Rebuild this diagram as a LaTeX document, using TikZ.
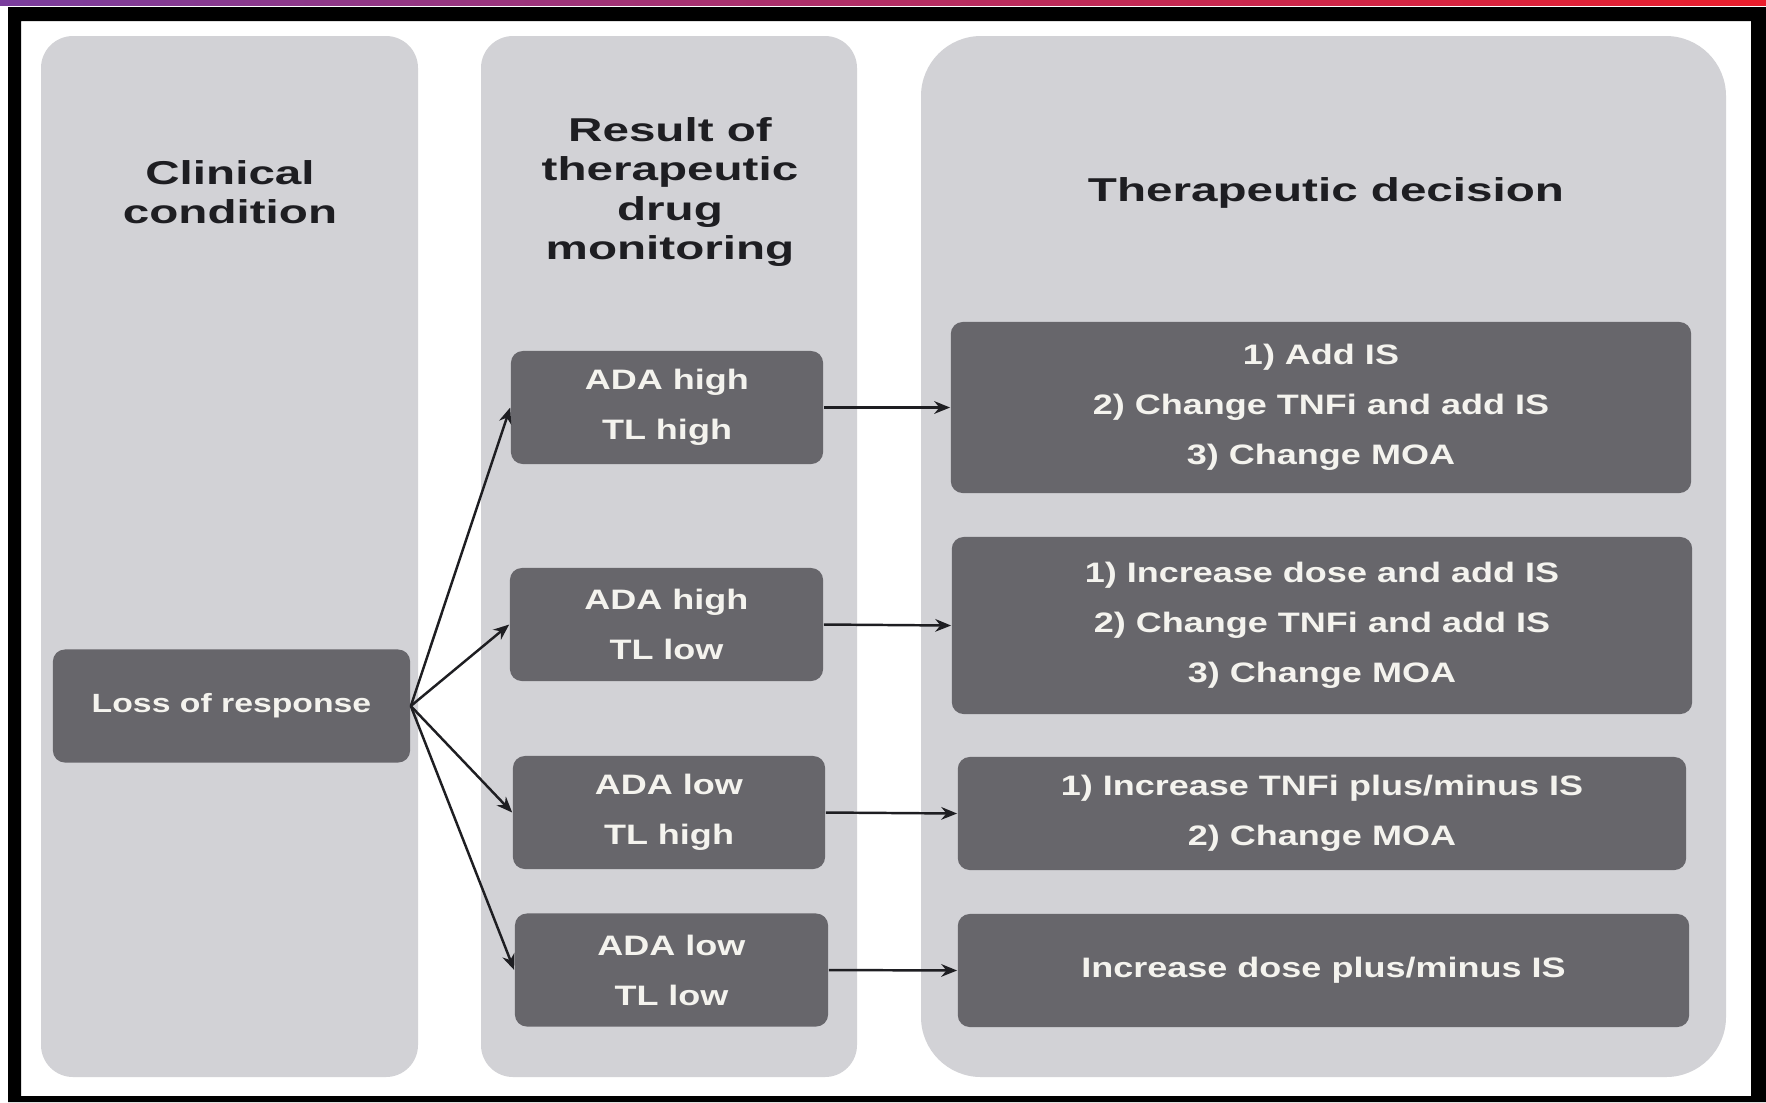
\documentclass[tikz,border=0pt]{standalone}
\usepackage{fontspec}
\usepackage{tikz}
\usetikzlibrary{arrows.meta}
\setmainfont{Liberation Sans}
\newfontfamily\headfont[FakeStretch=1.44]{Liberation Sans}
\newfontfamily\boxfont[FakeStretch=1.28]{Liberation Sans}
\definecolor{panelgray}{HTML}{D2D2D6}
\definecolor{boxgray}{HTML}{67666B}
\definecolor{inkdark}{HTML}{1E1E22}
\definecolor{boxtext}{HTML}{F4F3EE}
\definecolor{stripviolet}{HTML}{7A3E9D}
\definecolor{stripmagenta}{HTML}{BE1478}
\definecolor{stripred}{HTML}{EA1E2C}

\begin{document}
\begin{tikzpicture}[x=0.01cm,y=-0.01cm,
  head/.style={text=inkdark,align=center,font=\headfont\bfseries\fontsize{9.4}{11.1}\selectfont},
  dbox/.style={fill=boxgray,rounded corners=3.4pt,text=boxtext,align=center,inner sep=0pt,
    minimum height=1.13cm,font=\boxfont\bfseries\fontsize{8}{14.2}\selectfont},
  flow/.style={-{Stealth[length=4.5pt,width=3.6pt]},line width=0.7pt,draw=inkdark}]
\useasboundingbox (0,0) rectangle (1766,1102);
\fill[white] (0,0) rectangle (1766,1102);

% Frame
\shade[left color=stripviolet,middle color=stripmagenta,right color=stripred] (0,0) rectangle (1766,5);
\fill[black,even odd rule] (8,7) rectangle (1766,1102) (21,21) rectangle (1751,1096);

% Columns
\fill[panelgray,rounded corners=0.32cm] (41,36) rectangle (418,1077);
\fill[panelgray,rounded corners=0.32cm] (481,36) rectangle (857,1077);
\fill[panelgray,rounded corners=0.6cm] (921,36) rectangle (1726,1077);

\node[head] (h1) at (230,192) {Clinical\\condition};
\node[head] (h2) at (670,192) {Result of\\therapeutic\\drug\\monitoring};
\node[head] (h3) at (1326,193) {Therapeutic decision};

% Clinical condition
\node[dbox,minimum width=3.57cm,font=\boxfont\bfseries\fontsize{7.5}{14.2}\selectfont] (loss) at (231.5,706) {Loss of response};

% Monitoring results
\node[dbox,minimum width=3.12cm] (b1) at (667,407.5) {ADA high\\TL high};
\node[dbox,minimum width=3.13cm] (b2) at (666.5,624.5) {ADA high\\TL low};
\node[dbox,minimum width=3.12cm] (b3) at (669,812.5) {ADA low\\TL high};
\node[dbox,minimum width=3.13cm] (b4) at (671.5,970) {ADA low\\TL low};

% Decisions
\node[dbox,minimum width=7.40cm,minimum height=1.71cm] (r1) at (1321,407.5) {1) Add IS\\2) Change TNFi and add IS\\3) Change MOA};
\node[dbox,minimum width=7.40cm,minimum height=1.77cm] (r2) at (1322,625.5) {1) Increase dose and add IS\\2) Change TNFi and add IS\\3) Change MOA};
\node[dbox,minimum width=7.28cm] (r3) at (1322,813.5) {1) Increase TNFi plus/minus IS\\2) Change MOA};
\node[dbox,minimum width=7.31cm] (r4) at (1323.5,970.5) {Increase dose plus/minus IS};

% Arrows
\foreach \i in {1,...,4}
{
    \draw[flow] (loss.east) -- (b\i.west);
    \draw[flow] (b\i.east) -- (r\i.west);
}
\end{tikzpicture}
\end{document}
